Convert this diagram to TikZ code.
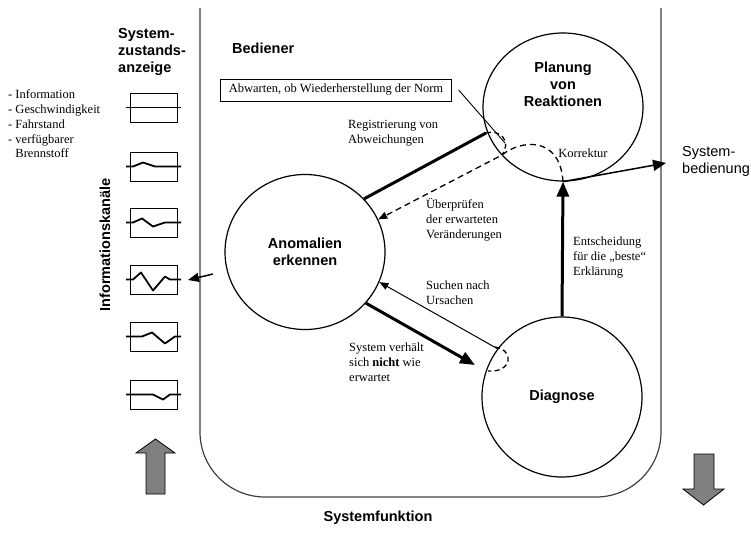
\documentclass[tikz,border=0pt]{standalone}
\usepackage{fontspec}
\setmainfont{Liberation Serif}
\setsansfont{Liberation Sans}
\usetikzlibrary{arrows.meta,shapes.geometric}
\tikzset{
  lbl/.style={font=\fontsize{12.5}{15}\selectfont, align=left, inner sep=0pt},
  hd/.style={font=\sffamily\bfseries\fontsize{14.5}{17}\selectfont, align=center, inner sep=0pt},
  sfl/.style={font=\sffamily\fontsize{14.5}{17}\selectfont, align=left, inner sep=0pt},
  bubble/.style={draw, ellipse, line width=1.2pt, inner sep=0pt},
  thickarr/.style={line width=3pt, -{Triangle[length=15pt,width=12pt]}},
  thinarr/.style={line width=1pt, -{Triangle[length=9pt,width=7pt]}},
  dasharr/.style={line width=1.3pt, dash pattern=on 6pt off 4pt, -{Triangle[length=9pt,width=7pt]}},
  smalldash/.style={line width=1.3pt, dash pattern=on 5pt off 3.5pt},
  chanbox/.style={draw, line width=0.9pt},
  wave/.style={line width=1.8pt, line join=round},
  blockarr/.style={draw, line width=0.8pt, fill=black!50},
  frame/.style={draw=black!75, line width=1.2pt, rounded corners=65pt}
}
\begin{document}
\begin{tikzpicture}[x=1pt,y=-1pt]
\useasboundingbox (0,0) rectangle (751,533);
% frame
\draw[frame] (200,8) -- (200,497) -- (661,497) -- (661,8);
% headings
\node[hd, anchor=west] (bed) at (232,48) {Bediener};
\node[hd, align=left, anchor=west] (sza) at (118,52) {System-\\zustands-\\anzeige};
\node[hd, rotate=90] (ik) at (105,245) {Informationskanäle};
\node[hd] (sf) at (378,518) {Systemfunktion};
\node[sfl, anchor=west] (sb) at (682,161) {System-\\bedienung};
\node[lbl, anchor=west, font=\fontsize{12.5}{14.7}\selectfont] (list) at (8,124) {- Information\\- Geschwindigkeit\\- Fahrstand\\- verfügbarer\\\phantom{- }Brennstoff};
% bubbles
\node[bubble, minimum width=160pt, minimum height=148pt] (plan) at (563,107) {};
\node[hd] (planT) at (563,84) {Planung\\von\\Reaktionen};
\node[bubble, minimum width=160pt, minimum height=155pt, hd] (anom) at (305,252) {Anomalien\\erkennen};
\node[bubble, minimum width=160pt, minimum height=160pt, hd] (diag) at (562,397) {Diagnose};
% box
\node[draw, line width=0.9pt, lbl, inner xsep=8pt, minimum height=22pt] (wait) at (336,90) {Abwarten, ob Wiederherstellung der Norm};
% coordinates
\coordinate (regEnd) at (486,133);
\coordinate (kor) at (502,155);
\coordinate (boxEnd) at (505,143);
\coordinate (sucStart) at (498,349);
\coordinate (nichtEnd) at (475,365);
\coordinate (sbEnd) at (666,163);
\coordinate (chanStart) at (213,274);
\coordinate (chanEnd) at (188,280);
% connectors
\draw[line width=3pt] (anom.42) -- (regEnd);
\draw[smalldash] (regEnd) .. controls (500,129) and (512,141) .. (kor);
\draw[line width=0.9pt] ([xshift=7pt]wait.east) -- (boxEnd);
\draw[dasharr] (plan.south) .. controls (560,135) and (520,140) .. (kor) -- (anom.24);
\draw[thinarr] (sucStart) -- (anom.-22);
\draw[smalldash] (495,347) .. controls (515,350) and (512,373) .. (488,371);
\draw[thickarr] (anom.-40) -- (nichtEnd);
\draw[thickarr] (diag.north) -- (plan.south);
\draw[line width=1.5pt, -{Triangle[length=13pt,width=11pt]}] (plan.south) -- (sbEnd);
\draw[line width=1.5pt, -{Triangle[length=11pt,width=9pt]}] (chanStart) -- (chanEnd);
% labels
\node[lbl, anchor=west] (lreg) at (348,133.5) {Registrierung von\\Abweichungen};
\node[lbl, anchor=west] (lueb) at (426,220) {Überprüfen\\der erwarteten\\Veränderungen};
\node[lbl, anchor=west] (lsuc) at (426,292.5) {Suchen nach\\Ursachen};
\node[lbl, anchor=west] (lnic) at (349,362) {System verhält\\sich \textbf{nicht} wie\\erwartet};
\node[lbl, anchor=west] (lent) at (573,257.5) {Entscheidung\\für die „beste“\\Erklärung};
\node[lbl] (lkor) at (583,153) {Korrektur};
% channels
\foreach \t in {93,152,208,265,322,380} {
  \draw[chanbox] (130,\t) rectangle (177,\t+29);
}
\def\m{107.5}
\draw[wave] (126,\m) -- (181,\m);
\def\m{166.5}
\draw[wave] (126,\m) -- (133,\m) -- (143,\m-4) -- (155,\m) -- (181,\m);
\def\m{222.5}
\draw[wave] (126,\m) -- (133,\m) -- (142,\m-4) -- (153,\m+4) -- (165,\m) -- (181,\m);
\def\m{279.5}
\draw[wave] (126,\m) -- (133,\m) -- (141,\m-7) -- (153,\m+11) -- (165,\m-3) -- (170,\m) -- (181,\m);
\def\m{336.5}
\draw[wave] (126,\m) -- (142,\m) -- (152,\m-4) -- (165,\m+7) -- (175,\m) -- (181,\m);
\def\m{394.5}
\draw[wave] (126,\m) -- (153,\m) -- (163,\m+5) -- (170,\m) -- (181,\m);
% block arrows
\draw[blockarr] (155.5,439) -- (175,453) -- (165,453) -- (165,494) -- (146,494) -- (146,453) -- (136,453) -- cycle;
\draw[blockarr] (694,454) -- (714,454) -- (714,489) -- (724,489) -- (703.5,505) -- (683,489) -- (694,489) -- cycle;
\end{tikzpicture}
\end{document}
